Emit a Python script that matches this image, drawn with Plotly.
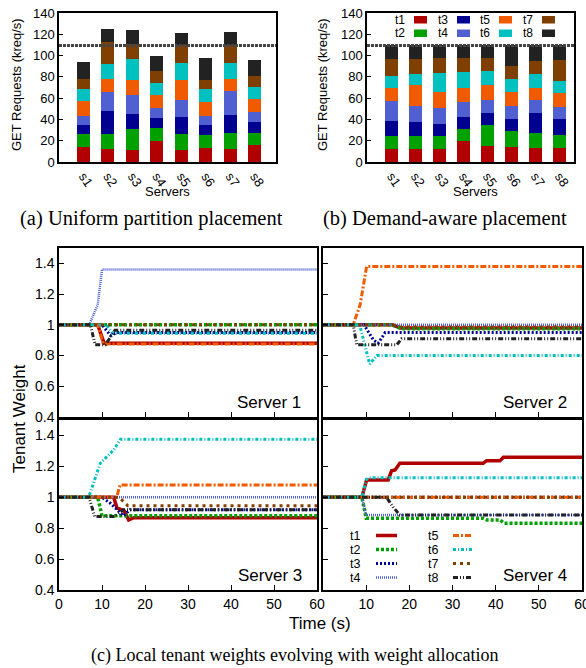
import plotly.graph_objects as go

# ---------------- data ----------------
SERVERS = ["s1", "s2", "s3", "s4", "s5", "s6", "s7", "s8"]
TENANTS = ["t1", "t2", "t3", "t4", "t5", "t6", "t7", "t8"]
CAPACITY = 109.5  # kreq/s dotted line

# (a) uniform partition placement: per-tenant request rate per server (kreq/s)
UNI_T1 = [14.1, 12.2, 11.3, 19.6, 11.3, 13.1, 12.2, 15.9]
UNI_T2 = [11.9, 13.8, 19.3, 11.9, 14.7, 11.9, 14.7, 11.0]
UNI_T3 = [9.2, 22.0, 14.7, 10.1, 16.5, 9.3, 17.4, 11.0]
UNI_T4 = [8.2, 17.4, 17.4, 9.2, 15.6, 9.1, 22.1, 9.2]
UNI_T5 = [13.8, 12.9, 14.7, 11.9, 19.3, 12.9, 11.9, 11.9]
UNI_T6 = [11.6, 13.7, 19.2, 11.9, 15.6, 11.9, 14.7, 11.9]
UNI_T7 = [9.2, 21.0, 14.7, 11.0, 16.8, 9.2, 17.4, 10.1]
UNI_T8 = [15.9, 12.0, 12.9, 13.8, 11.6, 20.2, 11.9, 14.7]

# (b) demand-aware placement
DA_T1 = [12.2, 12.2, 12.2, 19.6, 15.0, 14.1, 13.5, 13.5]
DA_T2 = [12.0, 12.0, 12.0, 11.0, 19.3, 14.6, 13.4, 11.5]
DA_T3 = [14.6, 13.7, 11.9, 11.9, 11.9, 12.0, 19.3, 15.7]
DA_T4 = [18.4, 14.7, 14.7, 13.8, 11.9, 11.9, 11.9, 11.0]
DA_T5 = [11.9, 19.3, 14.6, 13.7, 13.8, 12.8, 11.9, 12.8]
DA_T6 = [11.9, 11.0, 18.4, 14.7, 13.7, 12.9, 12.9, 12.0]
DA_T7 = [15.6, 13.7, 13.8, 12.9, 12.0, 11.9, 11.9, 19.2]
DA_T8 = [13.4, 13.4, 12.4, 12.4, 12.4, 19.8, 15.2, 14.3]

# (c) local tenant weights: (time s, weight) breakpoints
S1_T1 = [(0, 1.0), (9, 1.0), (10.5, 0.88), (60, 0.88)]
S1_T2 = [(0, 1.0), (60, 1.0)]
S1_T3 = [(0, 1.0), (10, 1.0), (12, 0.93), (13.5, 0.95), (60, 0.95)]
S1_T4 = [(0, 1.0), (7, 1.0), (9, 1.13), (10, 1.36), (60, 1.36)]
S1_T5 = [(0, 1.0), (9, 1.0), (10.3, 0.875), (60, 0.875)]
S1_T6 = [(0, 1.0), (11, 1.0), (12.5, 0.945), (60, 0.945)]
S1_T7 = [(0, 1.0), (60, 1.0)]
S1_T8 = [(0, 1.0), (7.3, 1.0), (8.4, 0.87), (10.8, 0.87), (13, 0.965), (60, 0.965)]

S2_T1 = [(0, 1.0), (16, 1.0), (18, 0.98), (60, 0.98)]
S2_T2 = [(0, 1.0), (16, 1.0), (18, 0.975), (60, 0.975)]
S2_T3 = [(0, 1.0), (9.5, 1.0), (11.7, 0.9), (12.8, 0.88), (14.4, 0.95), (60, 0.95)]
S2_T4 = [(0, 1.0), (60, 1.0)]
S2_T5 = [(0, 1.0), (7, 1.0), (8.6, 1.13), (10.1, 1.38), (60, 1.38)]
S2_T6 = [(0, 1.0), (8.5, 1.0), (10.8, 0.745), (12.5, 0.80), (60, 0.80)]
S2_T7 = [(0, 1.0), (16, 1.0), (18, 0.985), (60, 0.985)]
S2_T8 = [(0, 1.0), (7, 1.0), (7.8, 0.87), (17.1, 0.87), (18.2, 0.91), (60, 0.91)]

S3_T1 = [(0, 1.0), (12.7, 1.0), (13.5, 0.93), (15.1, 0.915), (16.2, 0.853), (17.4, 0.868), (60, 0.868)]
S3_T2 = [(0, 1.0), (9, 1.0), (10, 0.88), (60, 0.88)]
S3_T3 = [(0, 1.0), (10, 1.0), (12, 0.96), (15, 0.88), (16.5, 0.92), (60, 0.92)]
S3_T4 = [(0, 1.0), (60, 1.0)]
S3_T5 = [(0, 1.0), (13.4, 1.0), (14.2, 1.08), (60, 1.08)]
S3_T6 = [(0, 1.0), (6.9, 1.0), (9.6, 1.22), (12.7, 1.306), (14.3, 1.375), (60, 1.375)]
S3_T7 = [(0, 1.0), (14, 1.0), (16, 0.945), (60, 0.945)]
S3_T8 = [(0, 1.0), (7, 1.0), (8.3, 0.875), (13, 0.875), (15, 0.92), (60, 0.92)]

S4_T1 = [(0, 1.0), (9, 1.0), (10.1, 1.112), (15.1, 1.112), (15.9, 1.172), (16.7, 1.177),
         (17.8, 1.22), (37.1, 1.22), (37.9, 1.237), (41, 1.237), (41.8, 1.259), (60, 1.259)]
S4_T2 = [(0, 1.0), (9, 1.0), (10, 0.865), (37, 0.865), (38, 0.853), (41, 0.853), (42, 0.832), (60, 0.832)]
S4_T3 = [(0, 1.0), (60, 1.0)]
S4_T4 = [(0, 1.0), (9, 1.0), (10, 0.885), (60, 0.885)]
S4_T5 = [(0, 1.0), (60, 1.0)]
S4_T6 = [(0, 1.0), (9, 1.0), (10, 1.112), (10.6, 1.127), (60, 1.127)]
S4_T7 = [(0, 1.0), (60, 1.0)]
S4_T8 = [(0, 1.0), (14.7, 1.0), (16.3, 0.935), (17.8, 0.885), (60, 0.885)]

WEIGHT_TICKS = [0.4, 0.6, 0.8, 1.0, 1.2, 1.4]
WEIGHT_TICKTEXT = ["0.4", "0.6", "0.8", "1", "1.2", "1.4"]
TIME_TICKS = [0, 10, 20, 30, 40, 50, 60]

# ---------------- styling ----------------
W, H = 586, 668
SANS = "Liberation Sans, Arial, sans-serif"
SERIF = "Liberation Serif, Times New Roman, serif"
COLORS = ["#b00000", "#00a000", "#000090", "#5060d0", "#f05a00", "#00c0c0", "#7f3f00", "#222222"]
DASHES = ["solid", "3px,2px", "2px,2px", "1px,1px", "6px,2px,2px,2px",
          "3px,2px,1px,2px", "3px,4px", "5px,2px,1px,2px,1px,2px"]
LWIDTH = [3.5, 3.5, 3, 2.5, 3, 3, 3, 3]


def px(x):
    return x / W


def py(y):
    return 1 - y / H


fig = go.Figure()

uni = [UNI_T1, UNI_T2, UNI_T3, UNI_T4, UNI_T5, UNI_T6, UNI_T7, UNI_T8]
da = [DA_T1, DA_T2, DA_T3, DA_T4, DA_T5, DA_T6, DA_T7, DA_T8]
xpos = list(range(1, len(SERVERS) + 1))
for i, t in enumerate(TENANTS):
    fig.add_trace(go.Bar(x=xpos, y=uni[i], name=t, marker=dict(color=COLORS[i], line=dict(width=0)),
                         width=0.53, xaxis="x", yaxis="y", showlegend=False))
    fig.add_trace(go.Bar(x=xpos, y=da[i], name=t, marker=dict(color=COLORS[i], line=dict(width=0)),
                         width=0.55, xaxis="x2", yaxis="y2", showlegend=False))

servers = [
    [S1_T1, S1_T2, S1_T3, S1_T4, S1_T5, S1_T6, S1_T7, S1_T8],
    [S2_T1, S2_T2, S2_T3, S2_T4, S2_T5, S2_T6, S2_T7, S2_T8],
    [S3_T1, S3_T2, S3_T3, S3_T4, S3_T5, S3_T6, S3_T7, S3_T8],
    [S4_T1, S4_T2, S4_T3, S4_T4, S4_T5, S4_T6, S4_T7, S4_T8],
]
for s, series in enumerate(servers):
    ax = str(s + 3)
    for i, pts in enumerate(series):
        fig.add_trace(go.Scatter(
            x=[p[0] for p in pts], y=[p[1] for p in pts], mode="lines", name=TENANTS[i],
            line=dict(color=COLORS[i], dash=DASHES[i], width=LWIDTH[i]),
            xaxis="x" + ax, yaxis="y" + ax, showlegend=False))

frame = dict(showline=True, mirror=True, linecolor="black", linewidth=1.5, showgrid=False,
             zeroline=False, automargin=False, tickcolor="black")
tickfont_bar = dict(family=SANS, size=13, color="black")
tickfont_w = dict(family=SANS, size=14, color="black")

layout = dict(
    template="none",
    width=W, height=H, margin=dict(l=0, r=0, t=0, b=0, pad=0), autosize=False,
    paper_bgcolor="white", plot_bgcolor="white", barmode="stack", bargap=0,
    font=dict(family=SANS, color="black"), showlegend=False,
)
# bar axes
layout["xaxis"] = dict(domain=[px(59), px(276)], range=[0, 8.86], tickvals=xpos, ticktext=SERVERS,
                       tickangle=55, tickfont=tickfont_bar, ticks="", anchor="y", **frame)
layout["yaxis"] = dict(domain=[py(162), py(13)], range=[0, 140], tickvals=list(range(0, 141, 20)),
                       tickfont=tickfont_bar, ticks="inside", ticklen=4, anchor="x", **frame)
layout["xaxis2"] = dict(domain=[px(367), px(574)], range=[-0.03, 8.6], tickvals=xpos, ticktext=SERVERS,
                        tickangle=55, tickfont=tickfont_bar, ticks="", anchor="y2", **frame)
layout["yaxis2"] = dict(domain=[py(162), py(13)], range=[0, 140], tickvals=list(range(0, 141, 20)),
                        tickfont=tickfont_bar, ticks="inside", ticklen=4, anchor="x2", **frame)

cols = [(59, 317), (323, 582)]
rows = [(248, 417), (420, 590)]
for s in range(4):
    r, c = divmod(s, 2)
    ax = str(s + 3)
    xd = dict(domain=[px(cols[c][0]), px(cols[c][1])], range=[0, 60], anchor="y" + ax,
              ticks="inside", ticklen=5, tickfont=tickfont_w, ticklabeloverflow="allow", **frame)
    if r == 0:
        xd.update(tickvals=TIME_TICKS, showticklabels=False)
    else:
        xd.update(tickvals=TIME_TICKS if c == 0 else TIME_TICKS[1:])
    yd = dict(domain=[py(rows[r][1]), py(rows[r][0])], range=[0.4, 1.5], anchor="x" + ax,
              tickvals=WEIGHT_TICKS, ticktext=WEIGHT_TICKTEXT, ticks="inside", ticklen=5,
              tickfont=tickfont_w, showticklabels=(c == 0), **frame)
    layout["xaxis" + ax] = xd
    layout["yaxis" + ax] = yd

fig.update_layout(**layout)

shapes = []
annotations = []
# capacity lines
for xr, yr in (("x", "y"), ("x2", "y2")):
    shapes.append(dict(type="line", xref=xr + " domain", yref=yr, x0=0, x1=1, y0=CAPACITY, y1=CAPACITY,
                       line=dict(color="#444444", width=3, dash="3px,1px")))

# bar legend (b)
box_left = [414, 457, 499, 542]
row_y = [(16, 23.5), (29.5, 37)]
for i, t in enumerate(TENANTS):
    col, row = divmod(i, 2)
    x0 = box_left[col]
    y0, y1 = row_y[row]
    shapes.append(dict(type="rect", xref="paper", yref="paper", x0=px(x0), x1=px(x0 + 13),
                       y0=py(y1), y1=py(y0), fillcolor=COLORS[i], line=dict(width=0)))
    annotations.append(dict(text=t, xref="paper", yref="paper", x=px(x0 - 8), y=py((y0 + y1) / 2),
                            xanchor="right", yanchor="middle", showarrow=False,
                            borderpad=0, font=dict(family=SANS, size=12, color="black")))

# line legend (server 4)
leg_rows = [535.5, 549.5, 563.5, 577.5]
leg_cols = [(361, 376, 397), (439, 453, 473)]
for i, t in enumerate(TENANTS):
    col, row = divmod(i, 4)
    tx, lx0, lx1 = leg_cols[col]
    yy = leg_rows[row]
    shapes.append(dict(type="line", xref="paper", yref="paper", x0=px(lx0), x1=px(lx1),
                       y0=py(yy), y1=py(yy), line=dict(color=COLORS[i], dash=DASHES[i], width=LWIDTH[i])))
    annotations.append(dict(text=t, xref="paper", yref="paper", x=px(tx), y=py(yy),
                            xanchor="right", yanchor="middle", showarrow=False,
                            borderpad=0, font=dict(family=SANS, size=12.5, color="black")))


def ann(text, x, y, size, family=SANS, xanchor="center", angle=0):
    annotations.append(dict(text=text, xref="paper", yref="paper", x=px(x), y=py(y), xanchor=xanchor,
                            yanchor="middle", showarrow=False, textangle=angle, borderpad=0,
                            font=dict(family=family, size=size, color="black")))


ann("GET Requests (kreq/s)", 17, 85, 13, angle=-90)
ann("GET Requests (kreq/s)", 323, 85, 13, angle=-90)
ann("Servers", 167, 191, 13)
ann("Servers", 475, 191, 13)
ann("Server 1", 302, 402, 17, xanchor="right")
ann("Server 2", 568, 402, 17, xanchor="right")
ann("Server 3", 303, 575, 17, xanchor="right")
ann("Server 4", 568, 575, 17, xanchor="right")
ann("Tenant Weight", 19, 419, 17, angle=-90)
ann("Time (s)", 320, 623, 17)
ann("(a) Uniform partition placement", 152, 218, 20.5, family=SERIF)
ann("(b) Demand-aware placement", 445, 218, 20.5, family=SERIF)
ann("(c) Local tenant weights evolving with weight allocation", 294, 655, 18, family=SERIF)

fig.update_layout(shapes=shapes, annotations=annotations)
fig.write_html("out.html", config={"displayModeBar": False},
               post_script="document.body.style.margin='0';document.body.style.padding='0';")
